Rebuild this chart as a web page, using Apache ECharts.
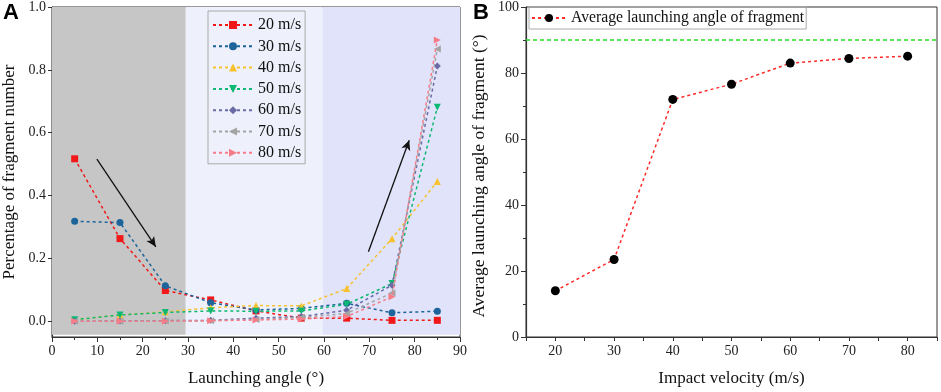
<!DOCTYPE html>
<html>
<head>
<meta charset="utf-8">
<script src="https://cdn.jsdelivr.net/npm/echarts@6/dist/echarts.min.js"></script>
<style>
  html, body { margin: 0; padding: 0; background: #fff; }
  #chart { width: 941px; height: 392px; }
</style>
</head>
<body>
<div id="chart"></div>
<script>
// panel A: share of fragments per launching angle bin
const angles = [5, 15, 25, 35, 45, 55, 65, 75, 85];
const speedNames = ['20 m/s', '30 m/s', '40 m/s', '50 m/s', '60 m/s', '70 m/s', '80 m/s'];
const v20 = [0.517, 0.263, 0.098, 0.068, 0.033, 0.010, 0.010, 0.003, 0.003];
const v30 = [0.318, 0.314, 0.113, 0.059, 0.036, 0.041, 0.057, 0.027, 0.032];
const v40 = [0.005, 0.020, 0.030, 0.043, 0.050, 0.049, 0.104, 0.263, 0.445];
const v50 = [0.005, 0.020, 0.028, 0.033, 0.032, 0.033, 0.054, 0.120, 0.681];
const v60 = [0.000, 0.001, 0.002, 0.003, 0.010, 0.015, 0.035, 0.115, 0.812];
const v70 = [0.000, 0.000, 0.001, 0.002, 0.006, 0.012, 0.025, 0.090, 0.866];
const v80 = [0.000, 0.000, 0.000, 0.002, 0.004, 0.007, 0.015, 0.078, 0.895];
const yTicksA = [0, 0.2, 0.4, 0.6, 0.8, 1.0];

// panel B: mean launching angle per impact velocity
const velocities = [20, 30, 40, 50, 60, 70, 80];
const avgAngle = [14.0, 23.5, 72.0, 76.6, 83.0, 84.4, 85.1];
const refAngle = 90;

const colors = ['#f01818', '#1c6499', '#f7c22e', '#0cb872', '#6a6aa6', '#a4a4a4', '#f77c88'];
const symbols = ['rect', 'circle', 'triangle', 'triangle', 'diamond', 'triangle', 'triangle'];
const rotations = [0, 0, 0, 180, 0, 90, -90];
const allSeries = [v20, v30, v40, v50, v60, v70, v80];

const serif = '"Liberation Serif", "DejaVu Serif", serif';

function pairs(xs, ys) {
  return xs.map((x, i) => [x, ys[i]]);
}

const lineSeries = allSeries.map((vals, i) => ({
  name: speedNames[i],
  type: 'line',
  xAxisIndex: 0,
  yAxisIndex: 0,
  data: pairs(angles, vals),
  symbol: symbols[i],
  symbolRotate: rotations[i],
  symbolSize: 7,
  z: 3 + i,
  lineStyle: { color: colors[i], width: 1.5, type: [3, 3] },
  itemStyle: { color: colors[i] }
}));

const chart = echarts.init(document.getElementById('chart'));

chart.setOption({
  backgroundColor: '#fff',
  animation: false,
  graphic: [
    { type: 'text', left: 3, top: 2, style: { text: 'A', font: 'bold 22px Arial, "Liberation Sans", sans-serif', fill: '#000' } },
    { type: 'text', left: 473, top: 2, style: { text: 'B', font: 'bold 22px Arial, "Liberation Sans", sans-serif', fill: '#000' } }
  ],
  grid: [
    { left: 50, right: 481, top: 7, bottom: 54, show: true, borderColor: '#333', borderWidth: 1 },
    { left: 526, right: 4, top: 7, bottom: 54, show: true, borderColor: '#333', borderWidth: 1 }
  ],
  legend: [
    {
      data: speedNames,
      orient: 'vertical',
      left: 208,
      top: 11,
      itemWidth: 40,
      itemHeight: 10,
      itemGap: 5.3,
      padding: [6, 4, 3, 4],
      backgroundColor: '#eef0fb',
      borderColor: '#aaa',
      borderWidth: 1,
      borderRadius: 0,
      textStyle: { fontFamily: serif, fontSize: 16, color: '#111' }
    },
    {
      data: ['Average launching angle of fragment'],
      left: 529,
      top: 7,
      itemWidth: 34,
      itemHeight: 10,
      padding: [3, 2, 3, 2],
      borderColor: '#aaa',
      borderWidth: 1,
      borderRadius: 0,
      textStyle: { fontFamily: serif, fontSize: 15.7, color: '#111' }
    }
  ],
  xAxis: [
    {
      gridIndex: 0,
      type: 'value',
      min: 0,
      max: 90,
      interval: 10,
      name: 'Launching angle (°)',
      nameLocation: 'middle',
      nameGap: 33,
      nameTextStyle: { fontFamily: serif, fontSize: 17, color: '#111' },
      axisLine: { onZero: false, lineStyle: { color: '#333', width: 1.2 } },
      axisTick: { length: 5, lineStyle: { color: '#333' } },
      minorTick: { show: true, splitNumber: 2, length: 3, lineStyle: { color: '#333' } },
      axisLabel: { fontFamily: serif, fontSize: 14, color: '#222', margin: 7 },
      splitLine: { show: false }
    },
    {
      gridIndex: 1,
      type: 'value',
      min: 15,
      max: 85,
      interval: 5,
      name: 'Impact velocity (m/s)',
      nameLocation: 'middle',
      nameGap: 33,
      nameTextStyle: { fontFamily: serif, fontSize: 17, color: '#111' },
      axisLine: { onZero: false, lineStyle: { color: '#333', width: 1.2 } },
      axisTick: { length: 4, lineStyle: { color: '#333' } },
      axisLabel: {
        fontFamily: serif, fontSize: 14, color: '#222', margin: 7,
        formatter: v => (v % 10 === 0 ? String(v) : '')
      },
      splitLine: { show: false }
    }
  ],
  yAxis: [
    {
      gridIndex: 0,
      type: 'value',
      min: -0.05,
      max: 1.0,
      name: 'Percentage of fragment number',
      nameLocation: 'middle',
      nameGap: 34,
      nameTextStyle: { fontFamily: serif, fontSize: 17, color: '#111' },
      axisLine: { onZero: false, lineStyle: { color: '#333', width: 1.2 } },
      axisTick: { length: 4, customValues: yTicksA, lineStyle: { color: '#333' } },
      axisLabel: {
        fontFamily: serif, fontSize: 14, color: '#222', margin: 6,
        customValues: yTicksA,
        formatter: v => v.toFixed(1)
      },
      splitLine: { show: false }
    },
    {
      gridIndex: 1,
      type: 'value',
      min: 0,
      max: 100,
      interval: 20,
      name: 'Average launching angle of fragment (°)',
      nameLocation: 'middle',
      nameGap: 38,
      nameTextStyle: { fontFamily: serif, fontSize: 17.5, color: '#111', padding: [0, 8, 0, 0] },
      axisLine: { onZero: false, lineStyle: { color: '#333', width: 1.2 } },
      axisTick: { length: 5, lineStyle: { color: '#333' } },
      minorTick: { show: true, splitNumber: 2, length: 3, lineStyle: { color: '#333' } },
      axisLabel: { fontFamily: serif, fontSize: 14, color: '#222', margin: 7 },
      splitLine: { show: false }
    }
  ],
  series: [
    {
      // background bands
      type: 'line',
      xAxisIndex: 0,
      yAxisIndex: 0,
      data: [],
      z: 1,
      silent: true,
      markArea: {
        silent: true,
        data: [
          [{ xAxis: 0, yAxis: -0.043, itemStyle: { color: '#c6c6c6' } }, { xAxis: 29.5, yAxis: 1.0 }],
          [{ xAxis: 29.5, yAxis: -0.043, itemStyle: { color: '#eef0fc' } }, { xAxis: 59.7, yAxis: 1.0 }],
          [{ xAxis: 59.7, yAxis: -0.043, itemStyle: { color: '#e0e3f9' } }, { xAxis: 90, yAxis: 1.0 }]
        ]
      }
    },
    {
      // trend arrows
      type: 'line',
      xAxisIndex: 0,
      yAxisIndex: 0,
      data: [],
      z: 20,
      silent: true,
      markLine: {
        silent: true,
        symbol: ['none', 'arrow'],
        symbolSize: [7, 10],
        label: { show: false },
        lineStyle: { color: '#111', width: 1.3, type: 'solid' },
        data: [
          [{ coord: [9.9, 0.516] }, { coord: [22.9, 0.237] }],
          [{ coord: [69.8, 0.221] }, { coord: [78.8, 0.576] }]
        ]
      }
    },
    ...lineSeries,
    {
      name: 'Average launching angle of fragment',
      type: 'line',
      xAxisIndex: 1,
      yAxisIndex: 1,
      data: pairs(velocities, avgAngle),
      symbol: 'circle',
      symbolSize: 9,
      lineStyle: { color: '#ff2a2a', width: 1.5, type: [3, 3] },
      itemStyle: { color: '#000' },
      markLine: {
        silent: true,
        symbol: 'none',
        label: { show: false },
        lineStyle: { color: '#22dd22', width: 1.5, type: [4, 3] },
        data: [{ yAxis: refAngle }]
      }
    }
  ]
});
</script>
</body>
</html>
